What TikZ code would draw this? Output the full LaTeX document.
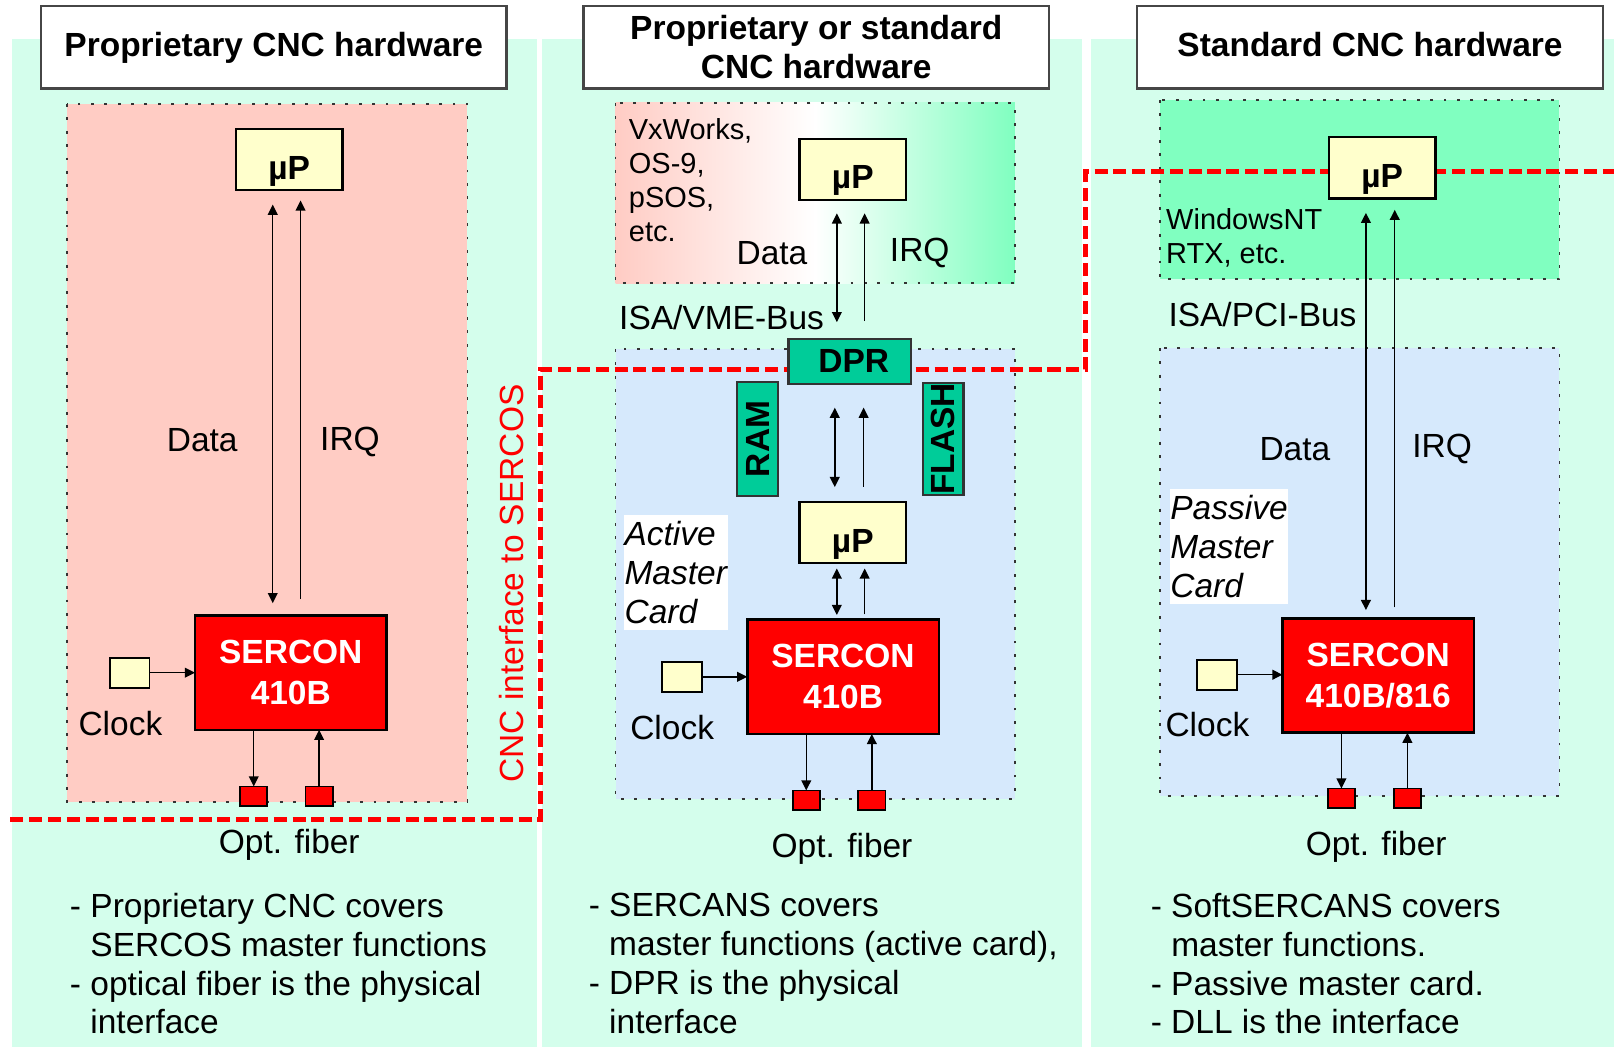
\documentclass[tikz,border=0pt]{standalone}
\usepackage{fontspec}
\setmainfont{Liberation Sans}
\usetikzlibrary{arrows.meta,calc}

\definecolor{mintbg}{RGB}{212,254,236}
\definecolor{pinkzone}{RGB}{255,204,196}
\definecolor{bluezone}{RGB}{214,233,252}
\definecolor{greenzone}{RGB}{128,255,192}
\definecolor{memgreen}{RGB}{0,204,153}
\definecolor{chipyellow}{RGB}{255,255,204}
\definecolor{sigred}{RGB}{255,0,0}

\newcommand\diagfont{\fontsize{9.25pt}{10.7pt}\selectfont}
\newcommand\osfont{\fontsize{8pt}{9.4pt}\selectfont}
\newcommand\chipfont{\fontsize{9.25pt}{11.4pt}\selectfont}

\begin{document}
\begin{tikzpicture}[x=0.01cm,y=-0.01cm,
  every node/.style={inner sep=0pt, outer sep=0pt, font=\diagfont},
  title/.style={draw=gray!55!black, line width=0.6pt, fill=white,
    minimum width=4.52cm, minimum height=0.80cm, align=center,
    font=\diagfont\bfseries},
  oneline/.style={text height=0.73em, text depth=0.21em},
  zone/.style={draw=black!80, line width=0.45pt, dash pattern=on 0.8pt off 2.9pt},
  chip/.style={draw=black, line width=0.6pt, fill=chipyellow,
    minimum width=1.035cm, minimum height=0.595cm, font=\diagfont\bfseries,
    text height=1.08em, text depth=0pt},
  sercon/.style={draw=black, line width=0.7pt, fill=sigred, text=white,
    minimum width=1.86cm, minimum height=1.11cm, align=center,
    font=\chipfont\bfseries},
  mem/.style={draw=black!80, line width=0.6pt, fill=memgreen, font=\diagfont\bfseries},
  fiber/.style={draw=black, line width=0.5pt, fill=sigred,
    minimum width=0.265cm, minimum height=0.19cm},
  clockbox/.style={draw=black, line width=0.5pt, fill=chipyellow,
    minimum width=0.385cm, minimum height=0.29cm},
  arr/.style={line width=0.4pt, -{Triangle[length=2.8pt,width=2.7pt]}},
  dblarr/.style={line width=0.4pt,
    {Triangle[length=2.8pt,width=2.7pt]}-{Triangle[length=2.8pt,width=2.7pt]}},
  cardlabel/.style={fill=white, align=left, font=\diagfont\itshape},
  iface/.style={draw=sigred, line width=1.4pt, dash pattern=on 3.6pt off 1.6pt},
  notes/.style={font=\diagfont, align=left, anchor=north west},
  osnote/.style={font=\osfont, align=left, anchor=north west}]

\useasboundingbox (0,0) rectangle (1568,1017);
\fill[white] (0,0) rectangle (1568,1017);

% column backgrounds
\fill[mintbg] (12,38) rectangle (522,1017);
\fill[mintbg] (527,38) rectangle (1051,1017);
\fill[mintbg] (1060,38) rectangle (1568,1017);

% column headings
\node[title, oneline] (t1) at (266,46) {Proprietary CNC hardware};
\node[title] (t2) at (793,46) {Proprietary or standard\\CNC hardware};
\node[title, oneline] (t3) at (1331,46) {Standard CNC hardware};

% hardware zones
\draw[zone, fill=pinkzone] (65,101) rectangle (454,779);
\shade[left color=pinkzone, right color=greenzone, middle color=white]
  (598,100) rectangle (986,275);
\draw[zone] (598,100) rectangle (986,275);
\draw[zone, fill=bluezone] (598,339) rectangle (986,776);
\draw[zone, fill=greenzone] (1127,97) rectangle (1515,271);
\draw[zone, fill=bluezone] (1127,338) rectangle (1515,773);

% boundary of the CNC interface to SERCOS
\draw[iface] (10,796) -- (525,796) -- (525,359) -- (1055,359) -- (1055,167) -- (1568,167);
\node[rotate=90, text=sigred] (ifacelbl) at (497,567) {CNC interface to SERCOS};

% ---------- proprietary CNC ----------
\node[chip] (mu1) at (281,155) {µP};
\node[sercon] (sc1) at (282.5,653.5) {SERCON\\410B};
\node[clockbox] (clk1) at (126,653.5) {};
\node[fiber] (f1a) at (246.5,773.5) {};
\node[fiber] (f1b) at (310,773.5) {};
\node (data1) at (196.5,428) {Data};
\node (irq1) at (340,429) {IRQ};
\node (clklbl1) at (117,703) {Clock};
\node (opt1) at (281,820.5) {Opt. fiber};

\coordinate (d1) at ($(mu1.south)+(-16,0)$);
\coordinate (q1) at ($(mu1.south)+(11,0)$);
\draw[dblarr, shorten <=0.14cm, shorten >=0.12cm] (d1) -- (d1 |- sc1.north);
\draw[arr, shorten <=0.16cm, shorten >=0.10cm] (q1 |- sc1.north) -- (q1);
\draw[arr] (clk1.east) -- (clk1.east -| sc1.west);
\draw[arr] (f1a.north |- sc1.south) -- (f1a.north);
\draw[arr] (f1b.north) -- (f1b.north |- sc1.south);

\node[notes] (n1) at (68,868) {- Proprietary CNC covers\\\hphantom{- }SERCOS master functions\\- optical fiber is the physical\\\hphantom{- }interface};

% ---------- proprietary or standard CNC ----------
\node[osnote] (os2) at (611,115) {VxWorks,\\OS-9,\\pSOS,\\etc.};
\node[chip] (mu2) at (828.5,164.5) {µP};
\node (data2) at (750,246) {Data};
\node (irq2) at (893.5,246) {IRQ};
\node (bus2) at (701,308) {ISA/VME-Bus};
\node[mem, minimum width=1.19cm, minimum height=0.44cm] (dpr) at (825.5,351) {\hspace{0.08cm}DPR};
\node[mem, rotate=90, minimum width=1.11cm, minimum height=0.40cm] (ram) at (736,426.5) {RAM};
\node[mem, rotate=90, minimum width=1.03cm, minimum height=0.39cm] (flash) at (916.5,426.5) {FLASH};
\node[chip] (mub) at (828.5,517.5) {µP};
\node[cardlabel, minimum width=1.01cm, minimum height=1.12cm] (act) at (656.5,556) {Active\\Master\\Card};
\node[sercon] (sc2) at (819,657.5) {SERCON\\410B};
\node[clockbox] (clk2) at (662.5,657.5) {};
\node[fiber] (f2a) at (783.3,777.4) {};
\node[fiber] (f2b) at (847,777.4) {};
\node (clklbl2) at (653,707) {Clock};
\node (opt2) at (818,824.5) {Opt. fiber};

\coordinate (d2) at ($(mu2.south)+(-15.5,0)$);
\coordinate (q2) at ($(mu2.south)+(11.5,0)$);
\draw[dblarr, shorten <=0.13cm, shorten >=0.16cm] (d2) -- (d2 |- dpr.north);
\draw[arr, shorten <=0.17cm, shorten >=0.13cm] (q2 |- dpr.north) -- (q2);

\coordinate (d2b) at ($(mub.north)+(-17.5,0)$);
\coordinate (q2b) at ($(mub.north)+(10.5,0)$);
\draw[dblarr, shorten <=0.23cm, shorten >=0.145cm] (d2b |- dpr.south) -- (d2b);
\draw[arr, shorten <=0.15cm, shorten >=0.23cm] (q2b) -- (q2b |- dpr.south);

\coordinate (d2c) at ($(mub.south)+(-15.5,0)$);
\coordinate (q2c) at ($(mub.south)+(11.5,0)$);
\draw[dblarr, shorten <=0.05cm, shorten >=0.045cm] (d2c) -- (d2c |- sc2.north);
\draw[arr, shorten <=0.05cm, shorten >=0.05cm] (q2c |- sc2.north) -- (q2c);

\draw[arr] (clk2.east) -- (clk2.east -| sc2.west);
\draw[arr] (f2a.north |- sc2.south) -- (f2a.north);
\draw[arr] (f2b.north) -- (f2b.north |- sc2.south);

\node[notes] (n2) at (572,868) {- SERCANS covers\\\hphantom{- }master functions (active card),\\- DPR is the physical\\\hphantom{- }interface};

% ---------- standard CNC ----------
\node[chip] (mu3) at (1342.8,163) {µP};
\node[osnote] (os3) at (1133,203) {WindowsNT\\RTX, etc.};
\node (bus3) at (1226.5,306) {ISA/PCI-Bus};
\node (data3) at (1258,436) {Data};
\node (irq3) at (1401,436) {IRQ};
\node[cardlabel, minimum width=1.14cm, minimum height=1.12cm] (pas) at (1194,531) {Passive\\Master\\Card};
\node[sercon] (sc3) at (1339,656.25) {SERCON\\410B/816};
\node[clockbox] (clk3) at (1182.3,655.5) {};
\node[fiber] (f3a) at (1303.2,775.5) {};
\node[fiber] (f3b) at (1367.3,775.5) {};
\node (clklbl3) at (1173,704) {Clock};
\node (opt3) at (1337,822.5) {Opt. fiber};

\coordinate (d3) at ($(mu3.south)+(-15.8,0)$);
\coordinate (q3) at ($(mu3.south)+(12.2,0)$);
\draw[dblarr, shorten <=0.14cm, shorten >=0.08cm] (d3) -- (d3 |- sc3.north);
\draw[arr, shorten <=0.107cm, shorten >=0.11cm] (q3 |- sc3.north) -- (q3);
\draw[arr] (clk3.east) -- (clk3.east -| sc3.west);
\draw[arr] (f3a.north |- sc3.south) -- (f3a.north);
\draw[arr] (f3b.north) -- (f3b.north |- sc3.south);

\node[notes] (n3) at (1118,868) {- SoftSERCANS covers\\\hphantom{- }master functions.\\- Passive master card.\\- DLL is the interface};

\end{tikzpicture}
\end{document}
